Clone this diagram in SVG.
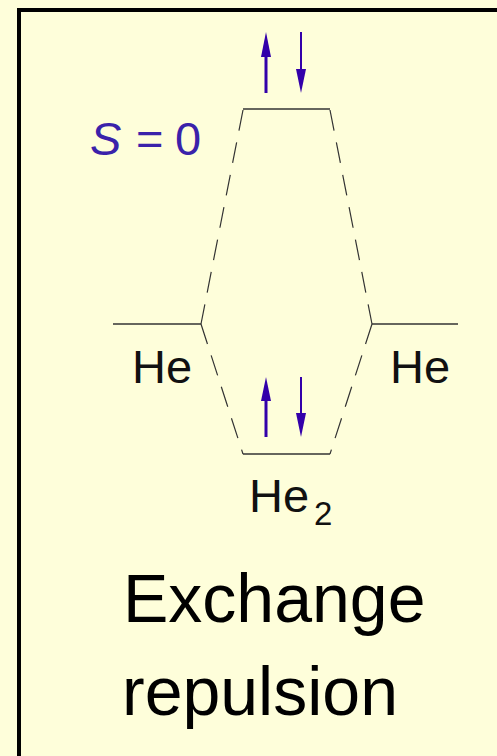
<svg xmlns="http://www.w3.org/2000/svg" width="497" height="756" viewBox="0 0 497 756">
  <style>
    .bg { fill: #FEFEDA; }
    .frame { fill: none; stroke: #000000; stroke-width: 4; }
    .level { stroke: #333333; stroke-width: 1.3; fill: none; }
    .corr { stroke: #333333; stroke-width: 1.2; fill: none; stroke-dasharray: 21 12; }
    .lbl { font-family: "Liberation Sans", Arial, sans-serif; fill: #111111; }
    .spin { fill: #3300AA; stroke: none; }
    .sval { font-family: "Liberation Sans", Arial, sans-serif; fill: #3A22AA; font-size: 47px; }
    .title { font-family: "Liberation Sans", Arial, sans-serif; fill: #000000; font-size: 68px; }
  </style>
  <rect class="bg" x="0" y="0" width="497" height="756"/>
  <rect class="frame" x="19" y="10" width="500" height="770"/>

  <g id="connectors">
    <line class="corr" x1="243" y1="110" x2="201" y2="324"/>
    <line class="corr" x1="330" y1="110" x2="372" y2="324"/>
    <line class="corr" x1="201" y1="324" x2="243" y2="454"/>
    <line class="corr" x1="372" y1="324" x2="330" y2="454"/>
  </g>

  <g id="antibonding">
    <line class="level" x1="243" y1="109" x2="330" y2="109"/>
    <rect class="spin" x="264.5" y="55" width="3" height="38"/>
    <polygon class="spin" points="261,57 271,57 266,32"/>
    <rect class="spin" x="300" y="32" width="2" height="38"/>
    <polygon class="spin" points="296,69 306,69 301,93"/>
    <text class="sval" y="155"><tspan x="90" font-style="italic">S</tspan><tspan x="136">=</tspan><tspan x="175">0</tspan></text>
  </g>

  <g id="he-left">
    <line class="level" x1="113" y1="324" x2="201" y2="324"/>
    <text class="lbl" x="132" y="383" font-size="47">He</text>
  </g>

  <g id="he-right">
    <line class="level" x1="372" y1="324" x2="458" y2="324"/>
    <text class="lbl" x="390" y="383" font-size="47">He</text>
  </g>

  <g id="he2-bonding">
    <line class="level" x1="243" y1="454" x2="330" y2="454"/>
    <rect class="spin" x="264.5" y="399" width="3" height="38"/>
    <polygon class="spin" points="261,401 271,401 266,377"/>
    <rect class="spin" x="300" y="377" width="2" height="38"/>
    <polygon class="spin" points="296,413 306,413 301,437"/>
    <text class="lbl" x="249" y="512" font-size="47">He</text>
    <text class="lbl" x="314" y="525" font-size="33">2</text>
  </g>

  <g id="caption">
    <text class="title" x="123" y="622">Exchange</text>
    <text class="title" x="122" y="715">repulsion</text>
  </g>
</svg>
